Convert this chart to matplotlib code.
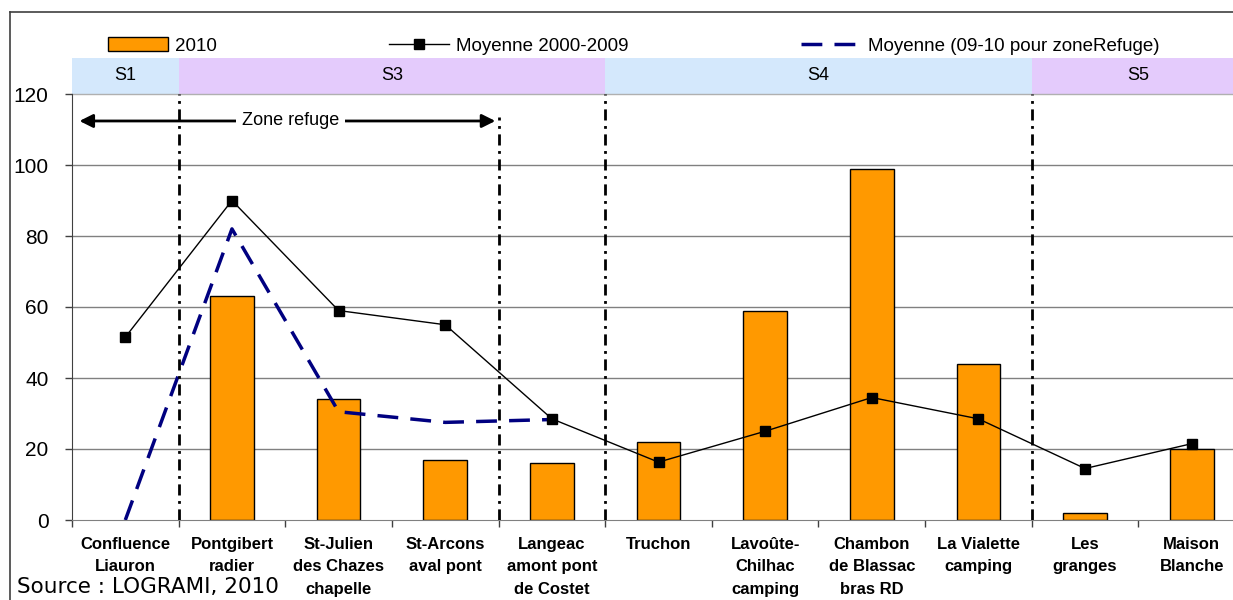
import numpy as np
import matplotlib
matplotlib.use("Agg")
from matplotlib import pyplot as plt
from matplotlib.patches import Rectangle
from matplotlib.lines import Line2D

plt.rcParams['font.family'] = ['Liberation Sans', 'DejaVu Sans']

stations = ["Confluence\nLiauron", "Pontgibert\nradier", "St-Julien\ndes Chazes\nchapelle",
            "St-Arcons\naval pont", "Langeac\namont pont\nde Costet", "Truchon",
            "Lavoûte-\nChilhac\ncamping", "Chambon\nde Blassac\nbras RD", "La Vialette\ncamping",
            "Les\ngranges", "Maison\nBlanche"]
val_2010 = [np.nan, 63, 34, 17, 16, 22, 59, 99, 44, 2, 20]
moy_0009 = [51.5, 90, 59, 55, 28.5, 16.3, 25, 34.5, 28.5, 14.5, 21.5]
moy_refuge = [0, 82, 30.5, 27.5, 28.3]

sectors = ["S1", "S3", "S4", "S5"]
sector_bounds = [(-0.5, 0.5), (0.5, 4.5), (4.5, 8.5), (8.5, 10.5)]
sector_colors = ["#d4e8fc", "#e4cbfc", "#d4e8fc", "#e4cbfc"]

W, H = 1233, 600
fig = plt.figure(figsize=(W / 100, H / 100), dpi=100)
ax = fig.add_axes([72 / W, 80 / H, (1245 - 72) / W, (520 - 94) / H])

x = np.arange(len(stations))

# grid
for yv in [20, 40, 60, 80, 100]:
    ax.axhline(yv, color="#808080", lw=1, zorder=0)

b1 = ax.bar(x, val_2010, width=0.41, color="#ff9900", edgecolor="black", lw=1, zorder=2, label="2010")
l1, = ax.plot(x, moy_0009, color="black", lw=1, marker="s", ms=7, zorder=4, label="Moyenne 2000-2009")
l2, = ax.plot(x[:len(moy_refuge)], moy_refuge, color="#000080", lw=2.5, ls=(0, (6, 3.5)), zorder=3,
              label="Moyenne (09-10 pour zoneRefuge)")

ax.set_xlim(-0.5, 10.5)
ax.set_ylim(0, 120)
ax.set_yticks([0, 20, 40, 60, 80, 100, 120])
ax.tick_params(axis="y", labelsize=15, length=5, width=1, color="#404040", pad=12)

ax.set_xticks(x)
ax.set_xticklabels(stations, fontsize=12, fontweight="bold", linespacing=1.62, va="top")
ax.set_xticks(np.arange(-0.5, 10.6, 1), minor=True)
ax.tick_params(axis="x", which="major", length=0, pad=12)
ax.tick_params(axis="x", which="minor", length=5, width=1, color="#404040")

for s in ["top", "right"]:
    ax.spines[s].set_visible(False)
ax.spines["left"].set_color("#404040")
ax.spines["bottom"].set_color("#808080")

# sector bands above the plot
band_top = 130.2
for name, (a, b), c in zip(sectors, sector_bounds, sector_colors):
    ax.add_patch(Rectangle((a, 120), b - a, band_top - 120, facecolor=c, edgecolor="none",
                           clip_on=False, zorder=1))
    ax.text((a + b) / 2, 125.3, name, ha="center", va="center", fontsize=13, clip_on=False)
ax.axhline(120, color="#b0b0b0", lw=1, zorder=1, clip_on=False)

# sector separators
dashdot = (0, (4, 2, 1, 2))
for xv in [0.5, 4.5, 8.5]:
    ax.plot([xv, xv], [0, 120], color="black", lw=2, ls=dashdot, zorder=5)
ax.plot([3.5, 3.5], [0, 113.5], color="black", lw=2, ls=dashdot, zorder=5)

# zone refuge arrow
ax.annotate("", xy=(-0.43, 112.4), xytext=(3.47, 112.4),
            arrowprops=dict(arrowstyle="<|-|>", color="black", lw=2, mutation_scale=20,
                            shrinkA=0, shrinkB=0), zorder=5)
ax.text(1.55, 112.4, "Zone refuge", ha="center", va="center", fontsize=13,
        bbox=dict(facecolor="white", edgecolor="none", pad=4), zorder=6)

fig.legend([b1, l1, l2], [b1.get_label(), l1.get_label(), l2.get_label()],
           loc="center left", bbox_to_anchor=(108 / W, 1 - 46 / H), ncol=3, frameon=False,
           fontsize=13.5, handlelength=3.2, handleheight=0.7, handletextpad=0.37,
           columnspacing=9.2, borderaxespad=0, borderpad=0)

# outer frame
fig.add_artist(Line2D([10 / W, 1.0], [1 - 12 / H, 1 - 12 / H], color="#404040", lw=1.2))
fig.add_artist(Line2D([10 / W, 10 / W], [0, 1 - 12 / H], color="#404040", lw=1.2))

fig.text(17 / W, 3 / H, "Source : LOGRAMI, 2010", fontsize=15.5, family="DejaVu Sans",
         ha="left", va="bottom")

fig.savefig("out.png", dpi=100)
